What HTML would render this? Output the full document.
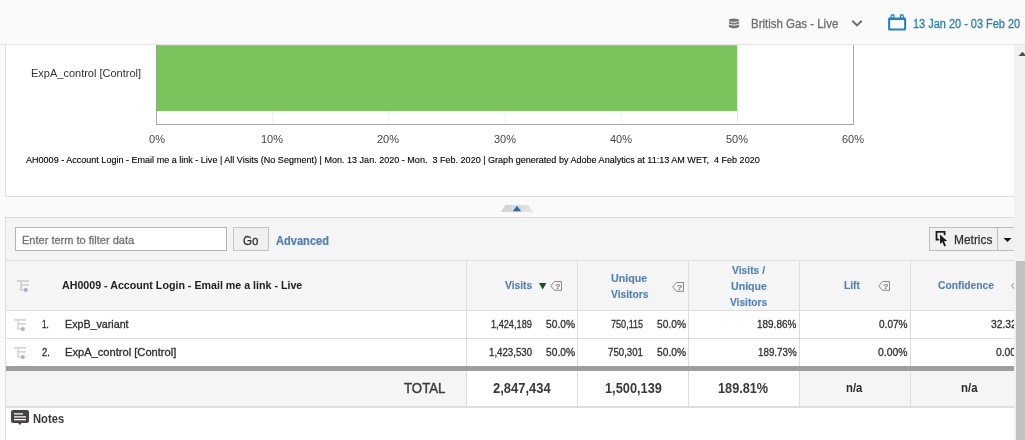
<!DOCTYPE html>
<html lang="en"><head><meta charset="utf-8"><title>Report</title>
<style>
html,body{margin:0;padding:0}
body{width:1025px;height:440px;overflow:hidden;position:relative;background:#fafafa;font-family:"Liberation Sans",sans-serif}
.r{position:absolute;display:block}
.t{position:absolute;white-space:pre;transform-origin:0 50%;display:block}
</style></head><body>
<div class="r" style="left:0px;top:0px;width:1025px;height:44px;background:#fafafa;"></div>
<div class="r" style="left:0px;top:44px;width:1025px;height:1px;background:#e4e4e4;"></div>
<div class="r" style="left:0px;top:45px;width:5px;height:395px;background:#fafafa;"></div>
<div class="r" style="left:5px;top:45px;width:1px;height:395px;background:#dedede;"></div>
<div class="r" style="left:6px;top:45px;width:1008px;height:151px;background:#ffffff;"></div>
<div class="r" style="left:5px;top:196px;width:1009px;height:1px;background:#dddddd;"></div>
<div class="r" style="left:272px;top:45px;width:1px;height:79px;background:#f0f0f0;"></div>
<div class="r" style="left:388px;top:45px;width:1px;height:79px;background:#f0f0f0;"></div>
<div class="r" style="left:505px;top:45px;width:1px;height:79px;background:#f0f0f0;"></div>
<div class="r" style="left:621px;top:45px;width:1px;height:79px;background:#f0f0f0;"></div>
<div class="r" style="left:737px;top:45px;width:1px;height:79px;background:#e6e6e6;"></div>
<div class="r" style="left:156px;top:111px;width:1px;height:14px;background:#a8a8a8;"></div>
<div class="r" style="left:156px;top:45px;width:581px;height:66px;background:#7bc45b;"></div>
<div class="r" style="left:156px;top:45px;width:1px;height:66px;background:#8aad7c;"></div>
<div class="r" style="left:157px;top:45px;width:580px;height:1px;background:#8fce74;"></div>
<div class="r" style="left:853px;top:45px;width:1px;height:80px;background:#a8a8a8;"></div>
<div class="r" style="left:156px;top:124px;width:698px;height:1px;background:#a8a8a8;"></div>
<span class="t " style="left:31.00px;top:66px;font-size:11px;line-height:15px;color:#333333;transform:scaleX(1.0000)">ExpA_control [Control]</span>
<span class="t " style="left:149.05px;top:132px;font-size:11px;line-height:15px;color:#454545;transform:scaleX(1.0000)">0%</span>
<span class="t " style="left:260.99px;top:132px;font-size:11px;line-height:15px;color:#454545;transform:scaleX(1.0000)">10%</span>
<span class="t " style="left:376.99px;top:132px;font-size:11px;line-height:15px;color:#454545;transform:scaleX(1.0000)">20%</span>
<span class="t " style="left:493.99px;top:132px;font-size:11px;line-height:15px;color:#454545;transform:scaleX(1.0000)">30%</span>
<span class="t " style="left:609.99px;top:132px;font-size:11px;line-height:15px;color:#454545;transform:scaleX(1.0000)">40%</span>
<span class="t " style="left:725.99px;top:132px;font-size:11px;line-height:15px;color:#454545;transform:scaleX(1.0000)">50%</span>
<span class="t " style="left:841.99px;top:132px;font-size:11px;line-height:15px;color:#454545;transform:scaleX(1.0000)">60%</span>
<span class="t " style="left:26.00px;top:154px;font-size:9px;line-height:13px;color:#000000;-webkit-text-stroke:0.12px #000000;transform:scaleX(1.0043)">AH0009 - Account Login - Email me a link - Live | All Visits (No Segment) | Mon. 13 Jan. 2020 - Mon.  3 Feb. 2020 | Graph generated by Adobe Analytics at 11:13 AM WET,  4 Feb 2020</span>
<svg class="r" style="left:728px;top:18px" width="12" height="12" viewBox="0 0 12 12"><g fill="#747474"><ellipse cx="6" cy="2.2" rx="5.1" ry="1.65"/><path d="M.9 3.500c1 1 3.100 1.300 5.100 1.300s4.100-.3 5.100-1.300v1.700c-1 1-3.100 1.300-5.100 1.300s-4.100-.3-5.100-1.300z"/><path d="M.9 6.300c1 1 3.100 1.300 5.100 1.300s4.100-.3 5.100-1.300v2.500c-1 1.100-3.100 1.500-5.100 1.500s-4.100-.4-5.100-1.500z"/></g></svg>
<span class="t " style="left:750.80px;top:15px;font-size:12.5px;line-height:18px;color:#6e6e6e;-webkit-text-stroke:0.3px #6e6e6e;transform:scaleX(0.9171)">British Gas - Live</span>
<svg class="r" style="left:851px;top:19px" width="12" height="9" viewBox="0 0 12 9"><path d="M1.3 1.8 6 6.4l4.7-4.6" fill="none" stroke="#6e6e6e" stroke-width="2"/></svg>
<svg class="r" style="left:887px;top:13px" width="20" height="19" viewBox="0 0 20 19"><g fill="#2282c5" fill-rule="evenodd"><path d="M2.4 4.4h15.4a1.3 1.3 0 0 1 1.3 1.3v10.6a1.3 1.3 0 0 1-1.3 1.3H2.4a1.3 1.3 0 0 1-1.3-1.3V5.700a1.3 1.3 0 0 1 1.3-1.300zM3.200 7.100v8.300h13.900V7.100z"/><path d="M3.500 5.200V3a2.070 1.950 0 0 1 4.150 0v2.200zM4.750 4.600h1.650V3.300a.82 .82 0 0 0-1.650 0z"/><path d="M12.750 5.200V3a2.070 1.950 0 0 1 4.150 0v2.200zM14 4.600h1.650V3.300a.82 .82 0 0 0-1.650 0z"/></g></svg>
<span class="t " style="left:912.60px;top:15px;font-size:12.5px;line-height:18px;color:#2680c2;-webkit-text-stroke:0.3px #2680c2;transform:scaleX(0.8760)">13 Jan 20 - 03 Feb 20</span>
<div class="r" style="left:0px;top:197px;width:1014px;height:20px;background:#fafafa;"></div>
<svg class="r" style="left:500px;top:204px" width="34" height="9" viewBox="0 0 34 9"><defs><linearGradient id="hg" x1="0" y1="0" x2="1" y2="0"><stop offset="0" stop-color="#cfcfcf"/><stop offset="1" stop-color="#e6e6e6"/></linearGradient></defs><path d="M1 8 5.5 1h23L33 8z" fill="url(#hg)"/><path d="M12.8 7.2 17 1.8l4.2 5.4z" fill="#2a6cb3"/></svg>
<div class="r" style="left:5px;top:217px;width:1009px;height:1px;background:#dddddd;"></div>
<div class="r" style="left:6px;top:218px;width:1008px;height:42px;background:#f5f5f5;"></div>
<div class="r" style="left:15px;top:227px;width:212px;height:24px;background:#ffffff;border:1px solid #b4b4b4;box-sizing:border-box"></div>
<span class="t " style="left:21.60px;top:233px;font-size:11px;line-height:15px;color:#737373;-webkit-text-stroke:0.3px #737373;transform:scaleX(1.0025)">Enter term to filter data</span>
<div class="r" style="left:233px;top:227px;width:36px;height:24px;background:#f0f0f0;border:1px solid #c4c4c4;box-sizing:border-box"></div>
<span class="t " style="left:243.40px;top:232px;font-size:12.5px;line-height:18px;color:#2e2e2e;-webkit-text-stroke:0.3px #2e2e2e;transform:scaleX(0.9228)">Go</span>
<span class="t " style="left:275.90px;top:232px;font-size:12.5px;line-height:18px;color:#4f7db8;font-weight:700;-webkit-text-stroke:0.2px #4f7db8;transform:scaleX(0.8870)">Advanced</span>
<div class="r" style="left:929px;top:227px;width:69px;height:24px;background:#f0f0f0;border:1px solid #bdbdbd;box-sizing:border-box"></div>
<div class="r" style="left:997px;top:227px;width:17px;height:24px;background:#f0f0f0;border:1px solid #bdbdbd;border-right:0;box-sizing:border-box"></div>
<svg class="r" style="left:935px;top:230px" width="14" height="18" viewBox="0 0 14 18"><path d="M4.2 9.7H1.5V1.9H9.6V5.2" fill="none" stroke="#1c1c1c" stroke-width="1.8"/><path d="M5 4.5V14l2.3-2.1 2 4.5 1.7-.8-2-4.3 3.2-.3z" fill="#1c1c1c"/></svg>
<span class="t " style="left:953.80px;top:231px;font-size:12.5px;line-height:18px;color:#2e2e2e;-webkit-text-stroke:0.25px #2e2e2e;transform:scaleX(0.9540)">Metrics</span>
<svg class="r" style="left:1003px;top:237px" width="9" height="6" viewBox="0 0 9 6"><path d="M.5 1h8L4.5 5z" fill="#111"/></svg>
<div class="r" style="left:5px;top:260px;width:1009px;height:1px;background:#dddddd;"></div>
<div class="r" style="left:6px;top:261px;width:1008px;height:49px;background:#f5f5f5;"></div>
<div class="r" style="left:6px;top:310px;width:1008px;height:1px;background:#dddddd;"></div>
<div class="r" style="left:6px;top:311px;width:1008px;height:27px;background:#ffffff;"></div>
<div class="r" style="left:6px;top:338px;width:1008px;height:1px;background:#dddddd;"></div>
<div class="r" style="left:6px;top:339px;width:1008px;height:27px;background:#ffffff;"></div>
<div class="r" style="left:6px;top:366px;width:1008px;height:5px;background:#9e9e9e;"></div>
<div class="r" style="left:6px;top:371px;width:460px;height:35px;background:#f5f5f5;"></div>
<div class="r" style="left:466px;top:371px;width:333px;height:35px;background:#ffffff;"></div>
<div class="r" style="left:799px;top:371px;width:215px;height:35px;background:#f5f5f5;"></div>
<div class="r" style="left:6px;top:406px;width:1008px;height:2px;background:#dedede;"></div>
<div class="r" style="left:6px;top:408px;width:1008px;height:32px;background:#ffffff;"></div>
<div class="r" style="left:466px;top:261px;width:1px;height:105px;background:#dddddd;"></div>
<div class="r" style="left:466px;top:371px;width:1px;height:35px;background:#dddddd;"></div>
<div class="r" style="left:577px;top:261px;width:1px;height:105px;background:#dddddd;"></div>
<div class="r" style="left:577px;top:371px;width:1px;height:35px;background:#dddddd;"></div>
<div class="r" style="left:688px;top:261px;width:1px;height:105px;background:#dddddd;"></div>
<div class="r" style="left:688px;top:371px;width:1px;height:35px;background:#dddddd;"></div>
<div class="r" style="left:799px;top:261px;width:1px;height:105px;background:#dddddd;"></div>
<div class="r" style="left:799px;top:371px;width:1px;height:35px;background:#dddddd;"></div>
<div class="r" style="left:910px;top:261px;width:1px;height:105px;background:#dddddd;"></div>
<div class="r" style="left:910px;top:371px;width:1px;height:35px;background:#dddddd;"></div>
<svg class="r" style="left:16px;top:279px" width="15" height="15" viewBox="0 0 15 15"><g fill="#d2d2d2"><rect x="1" y="1" width="12" height="1.8"/><rect x="4.3" y="1" width="1.8" height="10.6"/><rect x="4.3" y="5" width="8.7" height="1.7"/><rect x="4.3" y="10.1" width="4" height="1.5"/></g><circle cx="9.8" cy="11" r="2.1" fill="#94b3d3"/></svg>
<svg class="r" style="left:13px;top:318px" width="15" height="15" viewBox="0 0 15 15"><g fill="#d6d6d6"><rect x="1" y="1" width="12" height="1.8"/><rect x="4.3" y="1" width="1.8" height="10.6"/><rect x="4.3" y="5" width="8.7" height="1.7"/><rect x="4.3" y="10.1" width="4" height="1.5"/></g><circle cx="9.8" cy="11" r="2.1" fill="#9db9d8"/></svg>
<svg class="r" style="left:13px;top:346px" width="15" height="15" viewBox="0 0 15 15"><g fill="#d6d6d6"><rect x="1" y="1" width="12" height="1.8"/><rect x="4.3" y="1" width="1.8" height="10.6"/><rect x="4.3" y="5" width="8.7" height="1.7"/><rect x="4.3" y="10.1" width="4" height="1.5"/></g><circle cx="9.8" cy="11" r="2.1" fill="#9db9d8"/></svg>
<span class="t " style="left:62.00px;top:277px;font-size:11.5px;line-height:16px;color:#222222;font-weight:700;transform:scaleX(0.9277)">AH0009 - Account Login - Email me a link - Live</span>
<span class="t " style="left:41.70px;top:317px;font-size:11px;line-height:15px;color:#2c2c2c;-webkit-text-stroke:0.3px #2c2c2c;transform:scaleX(0.7403)">1.</span>
<span class="t " style="left:64.70px;top:317px;font-size:11px;line-height:15px;color:#2c2c2c;-webkit-text-stroke:0.3px #2c2c2c;transform:scaleX(0.9717)">ExpB_variant</span>
<span class="t " style="left:41.70px;top:345px;font-size:11px;line-height:15px;color:#2c2c2c;-webkit-text-stroke:0.3px #2c2c2c;transform:scaleX(0.8492)">2.</span>
<span class="t " style="left:64.70px;top:345px;font-size:11px;line-height:15px;color:#2c2c2c;-webkit-text-stroke:0.3px #2c2c2c;transform:scaleX(1.0113)">ExpA_control [Control]</span>
<span class="t " style="left:404.20px;top:378px;font-size:14px;line-height:20px;color:#3c3c3c;-webkit-text-stroke:0.45px #3c3c3c;transform:scaleX(0.9448)">TOTAL</span>
<span class="t " style="left:504.75px;top:277px;font-size:11.5px;line-height:16px;color:#5080bc;font-weight:700;-webkit-text-stroke:0.12px #5080bc;transform:scaleX(0.8942)">Visits</span>
<svg class="r" style="left:539px;top:283px" width="8" height="7" viewBox="0 0 8 7"><path d="M0 0h7.4L3.7 6.4z" fill="#17521a"/></svg>
<svg class="r" style="left:550px;top:281px" width="13" height="11" viewBox="0 0 13 11"><path d="M4.4 .5H11.5V9.3H4.4L.7 4.9z" fill="none" stroke="#8a8a8a" stroke-width="1"/><text transform="translate(7.6 8) scale(1.2 1)" font-family="Liberation Sans, sans-serif" font-size="8" font-weight="700" fill="#7c7c7c" text-anchor="middle">?</text></svg>
<span class="t " style="left:611.40px;top:270px;font-size:11.5px;line-height:16px;color:#5080bc;font-weight:700;-webkit-text-stroke:0.12px #5080bc;transform:scaleX(0.9286)">Unique</span>
<span class="t " style="left:610.75px;top:286px;font-size:11.5px;line-height:16px;color:#5080bc;font-weight:700;-webkit-text-stroke:0.12px #5080bc;transform:scaleX(0.8934)">Visitors</span>
<svg class="r" style="left:672px;top:282px" width="13" height="11" viewBox="0 0 13 11"><path d="M4.4 .5H11.5V9.3H4.4L.7 4.9z" fill="none" stroke="#8a8a8a" stroke-width="1"/><text transform="translate(7.6 8) scale(1.2 1)" font-family="Liberation Sans, sans-serif" font-size="8" font-weight="700" fill="#7c7c7c" text-anchor="middle">?</text></svg>
<span class="t " style="left:731.50px;top:262px;font-size:11.5px;line-height:16px;color:#5080bc;font-weight:700;-webkit-text-stroke:0.12px #5080bc;transform:scaleX(0.8953)">Visits /</span>
<span class="t " style="left:730.50px;top:278px;font-size:11.5px;line-height:16px;color:#5080bc;font-weight:700;-webkit-text-stroke:0.12px #5080bc;transform:scaleX(0.9234)">Unique</span>
<span class="t " style="left:729.90px;top:294px;font-size:11.5px;line-height:16px;color:#5080bc;font-weight:700;-webkit-text-stroke:0.12px #5080bc;transform:scaleX(0.8839)">Visitors</span>
<span class="t " style="left:843.75px;top:277px;font-size:11.5px;line-height:16px;color:#5080bc;font-weight:700;-webkit-text-stroke:0.12px #5080bc;transform:scaleX(0.8863)">Lift</span>
<svg class="r" style="left:878px;top:281px" width="13" height="11" viewBox="0 0 13 11"><path d="M4.4 .5H11.5V9.3H4.4L.7 4.9z" fill="none" stroke="#8a8a8a" stroke-width="1"/><text transform="translate(7.6 8) scale(1.2 1)" font-family="Liberation Sans, sans-serif" font-size="8" font-weight="700" fill="#7c7c7c" text-anchor="middle">?</text></svg>
<span class="t " style="left:937.90px;top:277px;font-size:11.5px;line-height:16px;color:#5080bc;font-weight:700;-webkit-text-stroke:0.12px #5080bc;transform:scaleX(0.8943)">Confidence</span>
<div class="r" style="left:1011px;top:281px;width:3px;height:11px;overflow:hidden"><svg width="13" height="11" viewBox="0 0 13 11" style="display:block"><path d="M4.4 .5H11.5V9.3H4.4L.7 4.9z" fill="none" stroke="#8a8a8a" stroke-width="1"/></svg></div>
<span class="t " style="left:490.75px;top:317px;font-size:11px;line-height:15px;color:#303030;-webkit-text-stroke:0.3px #303030;transform:scaleX(0.8345)">1,424,189</span>
<span class="t " style="left:545.75px;top:317px;font-size:11px;line-height:15px;color:#303030;-webkit-text-stroke:0.3px #303030;transform:scaleX(0.9299)">50.0%</span>
<span class="t " style="left:610.50px;top:317px;font-size:11px;line-height:15px;color:#303030;-webkit-text-stroke:0.3px #303030;transform:scaleX(0.8243)">750,115</span>
<span class="t " style="left:656.75px;top:317px;font-size:11px;line-height:15px;color:#303030;-webkit-text-stroke:0.3px #303030;transform:scaleX(0.9299)">50.0%</span>
<span class="t " style="left:757.40px;top:317px;font-size:11px;line-height:15px;color:#303030;-webkit-text-stroke:0.3px #303030;transform:scaleX(0.9056)">189.86%</span>
<span class="t " style="left:879.25px;top:317px;font-size:11px;line-height:15px;color:#303030;-webkit-text-stroke:0.3px #303030;transform:scaleX(0.9139)">0.07%</span>
<span class="t " style="left:990.75px;top:317px;font-size:11px;line-height:15px;color:#303030;-webkit-text-stroke:0.3px #303030;transform:scaleX(0.9372)">32.32%</span>
<span class="t " style="left:488.50px;top:345px;font-size:11px;line-height:15px;color:#303030;-webkit-text-stroke:0.3px #303030;transform:scaleX(0.8805)">1,423,530</span>
<span class="t " style="left:545.75px;top:345px;font-size:11px;line-height:15px;color:#303030;-webkit-text-stroke:0.3px #303030;transform:scaleX(0.9299)">50.0%</span>
<span class="t " style="left:607.60px;top:345px;font-size:11px;line-height:15px;color:#303030;-webkit-text-stroke:0.3px #303030;transform:scaleX(0.8802)">750,301</span>
<span class="t " style="left:656.75px;top:345px;font-size:11px;line-height:15px;color:#303030;-webkit-text-stroke:0.3px #303030;transform:scaleX(0.9299)">50.0%</span>
<span class="t " style="left:758.00px;top:345px;font-size:11px;line-height:15px;color:#303030;-webkit-text-stroke:0.3px #303030;transform:scaleX(0.8918)">189.73%</span>
<span class="t " style="left:878.40px;top:345px;font-size:11px;line-height:15px;color:#303030;-webkit-text-stroke:0.3px #303030;transform:scaleX(0.9412)">0.00%</span>
<span class="t " style="left:996.40px;top:345px;font-size:11px;line-height:15px;color:#303030;-webkit-text-stroke:0.3px #303030;transform:scaleX(0.9396)">0.00%</span>
<span class="t " style="left:493.10px;top:378px;font-size:14px;line-height:20px;color:#3a3a3a;font-weight:700;transform:scaleX(0.9262)">2,847,434</span>
<span class="t " style="left:604.80px;top:378px;font-size:14px;line-height:20px;color:#3a3a3a;font-weight:700;transform:scaleX(0.9149)">1,500,139</span>
<span class="t " style="left:717.85px;top:378px;font-size:14px;line-height:20px;color:#3a3a3a;font-weight:700;transform:scaleX(0.9078)">189.81%</span>
<span class="t " style="left:845.80px;top:379px;font-size:13px;line-height:18px;color:#2a2a2a;font-weight:700;transform:scaleX(0.8670)">n/a</span>
<span class="t " style="left:961.30px;top:379px;font-size:13px;line-height:18px;color:#2a2a2a;font-weight:700;transform:scaleX(0.8776)">n/a</span>
<div class="r" style="left:1014px;top:45px;width:11px;height:395px;background:#f1f1f1;"></div>
<svg class="r" style="left:1018px;top:51px" width="9" height="6" viewBox="0 0 9 6"><path d="M.5 5h8L4.5 .8z" fill="#505050"/></svg>
<div class="r" style="left:1016px;top:261px;width:9px;height:179px;background:#c1c1c1;"></div>
<svg class="r" style="left:11px;top:410px" width="18" height="15" viewBox="0 0 18 15"><path d="M2 0h14a2 2 0 0 1 2 2v9a2 2 0 0 1-2 2H10.6L8.8 15 7 13H2a2 2 0 0 1-2-2V2a2 2 0 0 1 2-2z" fill="#464444"/><path d="M3 3.9h9M3 6.85h12M3 9.7h12" stroke="#fff" stroke-width="1.25"/></svg>
<span class="t " style="left:32.90px;top:410px;font-size:12.5px;line-height:18px;color:#3a3a3a;font-weight:700;transform:scaleX(0.8978)">Notes</span>
</body></html>
